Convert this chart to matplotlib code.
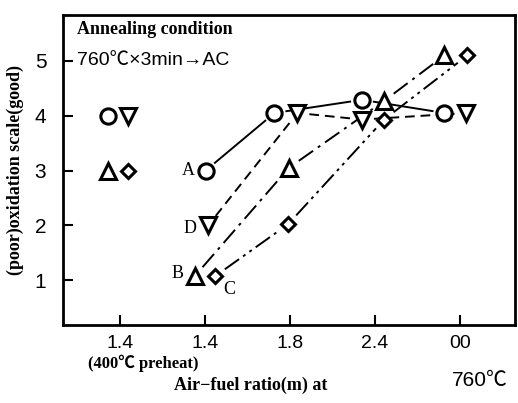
import numpy as np
import matplotlib.pyplot as plt

# x positions: category index with small offsets as drawn
xticks_pos = [0, 1, 2, 3, 4]
xtick_labels = ['1.4', '1.4', '1.8', '2.4', '00']

# series A (circle, solid)
a_x = [1.01, 1.82, 2.85, 3.82]
a_y = [3.0, 4.05, 4.29, 4.05]
# series D (down triangle, dashed)
d_x = [1.04, 2.09, 2.85, 4.08]
d_y = [2.0, 4.05, 3.93, 4.05]
# series B (triangle, dash-dot)
b_x = [0.88, 1.99, 3.11, 3.82]
b_y = [1.07, 3.05, 4.27, 5.1]
# series C (diamond, dash-dot-dot)
c_x = [1.12, 1.98, 3.11, 4.09]
c_y = [1.07, 2.02, 3.93, 5.1]

# preheated samples (no lines)
pre_x = [-0.14, 0.09, -0.14, 0.09]
pre_y = [4, 4, 3, 3]
pre_m = ['o', 'v', '^', 'D']

sans = ['Liberation Sans', 'Noto Sans CJK JP', 'DejaVu Sans']
serif = ['Liberation Serif', 'Noto Sans CJK JP', 'DejaVu Sans']

fig = plt.figure(figsize=(5.18, 4.03), dpi=100)
ax = fig.add_axes([0.1216, 0.1935, 0.8724, 0.7695])
ax.set_xlim(-0.67, 4.65)
ax.set_ylim(0.18, 5.84)

fig.canvas.draw()

def seg_line(xs, ys, ls, gap=12):
    # draw segments shortened so they stop short of the markers
    pts = ax.transData.transform(np.column_stack([xs, ys]))
    inv = ax.transData.inverted()
    for i in range(len(pts) - 1):
        p0, p1 = pts[i], pts[i + 1]
        v = p1 - p0
        u = v / np.hypot(*v)
        q0 = inv.transform(p0 + u * gap)
        q1 = inv.transform(p1 - u * gap)
        ax.plot([q0[0], q1[0]], [q0[1], q1[1]], color='black', lw=1.4, ls=ls)

seg_line(a_x, a_y, '-')
seg_line(d_x, d_y, (0, (5, 3)))
seg_line(b_x, b_y, (0, (9, 3, 1.5, 3)))
seg_line(c_x, c_y, (0, (9, 2.5, 1.5, 2.5, 1.5, 2.5)))

mk = dict(color='black', mfc='white', mew=2.2, ls='none', zorder=3)
ax.plot(a_x, a_y, marker='o', ms=11, **mk)
ax.plot(d_x, d_y, marker='v', ms=11, **mk)
ax.plot(b_x, b_y, marker='^', ms=11, **mk)
ax.plot(c_x, c_y, marker='D', ms=7.5, **mk)
for x, y, m in zip(pre_x, pre_y, pre_m):
    ax.plot(x, y, marker=m, ms=7.5 if m == 'D' else 11, **mk)

ax.text(0.8, 3.0, 'A', family=serif, fontsize=13, ha='center', va='center')
ax.text(0.82, 1.95, 'D', family=serif, fontsize=13, ha='center', va='center')
ax.text(0.68, 1.12, 'B', family=serif, fontsize=13, ha='center', va='center')
ax.text(1.29, 0.83, 'C', family=serif, fontsize=13, ha='center', va='center')

ax.text(-0.5, 5.57, 'Annealing condition', family=serif, fontsize=13,
        fontweight='bold', ha='left', va='center')
ax.text(-0.5, 5.0, '760℃×3min→AC', family=sans, fontsize=14,
        ha='left', va='center')

ax.set_xticks(xticks_pos)
ax.set_xticklabels(xtick_labels, fontsize=14, family='Liberation Sans')
ax.set_yticks([1, 2, 3, 4, 5])
ax.set_yticklabels(['1', '2', '3', '4', '5'], fontsize=15, family='Liberation Sans')
ax.tick_params(direction='in', length=7, width=1.5, pad=7)
ax.tick_params(axis='y', pad=12)
for s in ax.spines.values():
    s.set_linewidth(2)

ax.set_ylabel('(poor)oxidation scale(good)', family=serif, fontsize=13,
              fontweight='bold', labelpad=8)
fig.text(0.277, 0.098, '(400℃ preheat)', family=serif, fontsize=12,
         fontweight='bold', ha='center', va='center')
fig.text(0.483, 0.043, 'Air−fuel ratio(m) at', family=serif, fontsize=13,
         fontweight='bold', ha='center', va='center')
fig.text(0.927, 0.057, '760℃', family=sans, fontsize=15,
         ha='center', va='center')

fig.savefig('out.png', dpi=100)
